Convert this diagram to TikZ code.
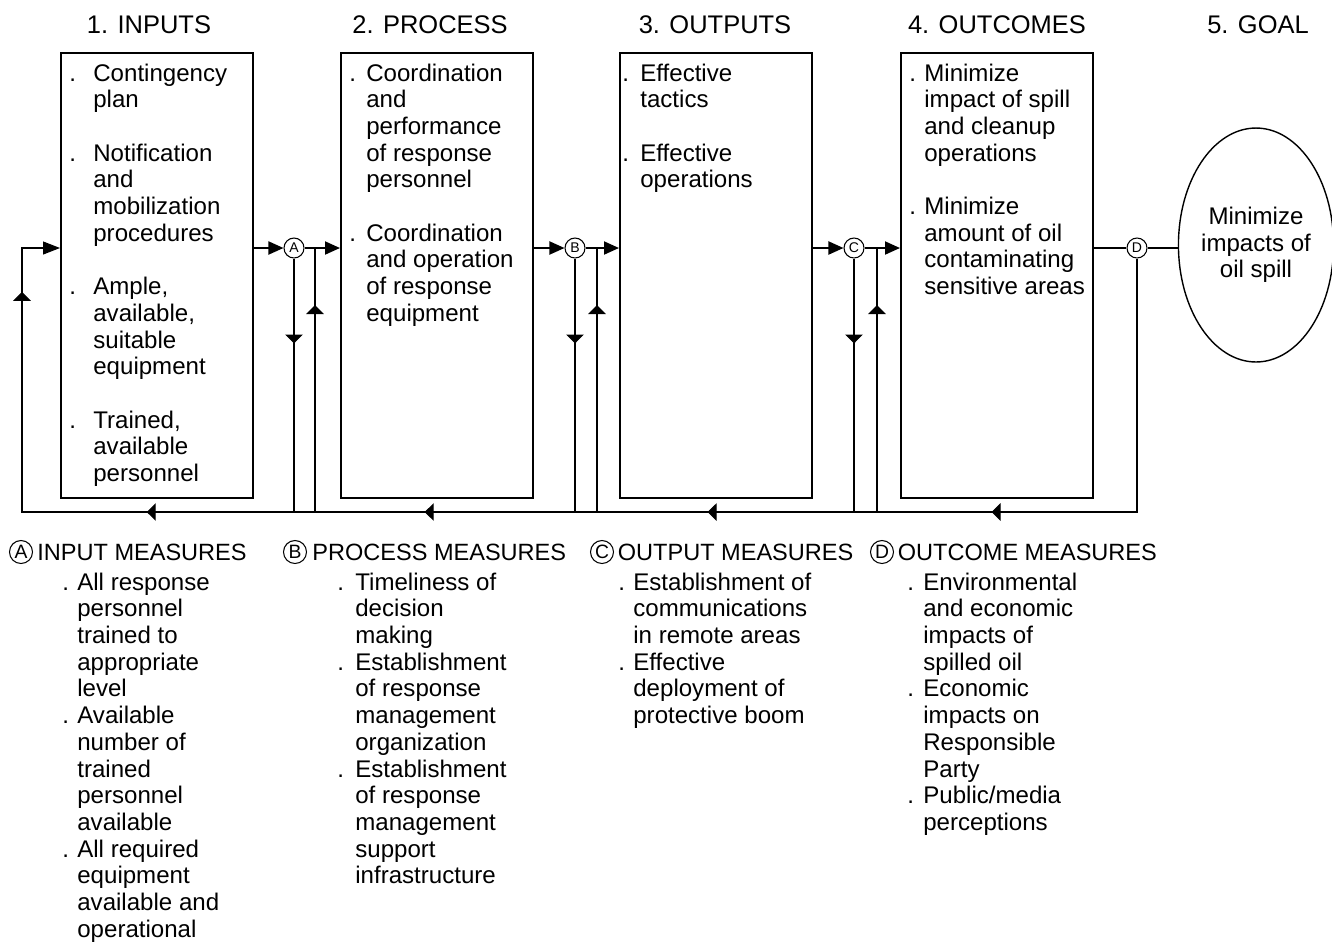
\documentclass[tikz,border=0pt]{standalone}
\usepackage{fontspec}
\setmainfont{Liberation Sans}
\usetikzlibrary{shapes.geometric, arrows.meta, positioning, decorations.markings}

\newcommand{\bodyfont}{\fontsize{13.7}{15.2}\selectfont}
\newcommand{\headfont}{\fontsize{14.5}{17}\selectfont}
\newcommand{\measfont}{\fontsize{13.4}{15.2}\selectfont}
\newcommand{\bul}[1]{\llap{\makebox[#1][l]{.}}\strut}

\tikzstyle{stage} = [rectangle, draw=black, line width=1.3pt, anchor=north west, inner sep=0pt, minimum width=3.84cm, minimum height=8.9cm]
\tikzstyle{title} = [anchor=base, inner sep=0pt, font=\headfont]
\tikzstyle{meas} = [anchor=west, inner sep=0pt, font=\measfont]
\tikzstyle{txt} = [anchor=north west, align=left, inner sep=0pt, font=\bodyfont]
\tikzstyle{tag} = [circle, draw=black, line width=0.6pt, fill=white, minimum size=0.4cm, inner sep=0pt, font=\fontsize{8}{8}\selectfont]
\tikzstyle{bigtag} = [circle, draw=black, line width=0.6pt, minimum size=0.46cm, inner sep=0pt, font=\fontsize{11}{11}\selectfont]
\tikzstyle{arrow} = [line width=1.1pt, -{Triangle[length=0.3cm, width=0.26cm]}]
\tikzstyle{link} = [line width=1.1pt]
\tikzstyle{thinline} = [line width=0.6pt]
\tikzset{
  flat/.tip={Triangle[length=0.18cm, width=0.35cm]},
  markat/.style={postaction={decorate}, decoration={markings, mark=at position #1 with {\arrow{flat}}}}
}

\begin{document}
\begin{tikzpicture}[x=0.02cm, y=-0.02cm]
\useasboundingbox (0,0) rectangle (1332,941);

% column titles
\node[title] (t1) at (149,33) {1. INPUTS};
\node[title] (t2) at (430,33) {2. PROCESS};
\node[title] (t3) at (715,33) {3. OUTPUTS};
\node[title] (t4) at (997,33) {4. OUTCOMES};
\node[title] (t5) at (1258,33) {5. GOAL};

% stage boxes
\node[stage] (box1) at (60,52) {};
\node[stage] (box2) at (340,52) {};
\node[stage] (box3) at (619,52) {};
\node[stage] (box4) at (900,52) {};
\node[ellipse, draw=black, line width=0.8pt, minimum width=3.0cm, minimum height=4.68cm, inner sep=0pt, align=center, font=\bodyfont] (goal) at (1256,245) {Minimize\\impacts of\\oil spill};

\node[txt] (in) at (93,62) {\bul{0.48cm}Contingency\\plan\\[15.2pt]\bul{0.48cm}Notification\\and\\mobilization\\procedures\\[15.2pt]\bul{0.48cm}Ample,\\available,\\suitable\\equipment\\[15.2pt]\bul{0.48cm}Trained,\\available\\personnel};
\node[txt] (pr) at (366,62) {\bul{0.34cm}Coordination\\and\\performance\\of response\\personnel\\[15.2pt]\bul{0.34cm}Coordination\\and operation\\of response\\equipment};
\node[txt] (out) at (640,62) {\bul{0.36cm}Effective\\tactics\\[15.2pt]\bul{0.36cm}Effective\\operations};
\node[txt] (oc) at (924,62) {\bul{0.3cm}Minimize\\impact of spill\\and cleanup\\operations\\[15.2pt]\bul{0.3cm}Minimize\\amount of oil\\contaminating\\sensitive areas};

% measure points
\node[tag] (A) at (294,248) {A};
\node[tag] (B) at (575,248) {B};
\node[tag] (C) at (854,248) {C};
\node[tag] (D) at (1137,248) {D};
\coordinate (jA) at (315,248);
\coordinate (jB) at (597,248);
\coordinate (jC) at (877,248);
\coordinate (fb) at (22,512);

% main flow
\draw[arrow] (box1.east |- A) -- (A);
\draw[arrow] (A) -- (A -| box2.west);
\draw[arrow] (box2.east |- B) -- (B);
\draw[arrow] (B) -- (B -| box3.west);
\draw[arrow] (box3.east |- C) -- (C);
\draw[arrow] (C) -- (C -| box4.west);
\draw[link] (box4.east |- D) -- (D);
\draw[link] (D) -- (D -| goal.west);

% measures down, feedback up
\draw[thinline, markat=1.7cm] (A) -- (A |- fb);
\draw[thinline, markat=4.14cm] (jA |- fb) -- (jA);
\draw[thinline, markat=1.7cm] (B) -- (B |- fb);
\draw[thinline, markat=4.14cm] (jB |- fb) -- (jB);
\draw[thinline, markat=1.7cm] (C) -- (C |- fb);
\draw[thinline, markat=4.14cm] (jC |- fb) -- (jC);
\draw[thinline, -{Triangle[length=0.34cm, width=0.26cm]}, postaction={decorate}, decoration={markings,
    mark=at position 7.98cm with {\arrow{flat}},
    mark=at position 13.66cm with {\arrow{flat}},
    mark=at position 19.32cm with {\arrow{flat}},
    mark=at position 24.88cm with {\arrow{flat}},
    mark=at position 31.78cm with {\arrow{flat}}}]
  (D) -- (D |- fb) -- (fb) -- (fb |- A) -- (A -| box1.west);

% measures
\node[bigtag] (mA) at (21,552) {A};
\node[meas, right=0.08cm of mA] (hA) {INPUT MEASURES};
\node[bigtag] (mB) at (295,552) {B};
\node[meas, right=0.1cm of mB] (hB) {PROCESS MEASURES};
\node[bigtag] (mC) at (602,552) {C};
\node[meas, right=0.07cm of mC] (hC) {OUTPUT MEASURES};
\node[bigtag] (mD) at (882,552) {D};
\node[meas, right=0.07cm of mD] (hD) {OUTCOME MEASURES};

\node[txt] (iA) at (77,571) {\bul{0.3cm}All response\\personnel\\trained to\\appropriate\\level\\\bul{0.3cm}Available\\number of\\trained\\personnel\\available\\\bul{0.3cm}All required\\equipment\\available and\\operational};
\node[txt] (iB) at (355,571) {\bul{0.36cm}Timeliness of\\decision\\making\\\bul{0.36cm}Establishment\\of response\\management\\organization\\\bul{0.36cm}Establishment\\of response\\management\\support\\infrastructure};
\node[txt] (iC) at (633,571) {\bul{0.3cm}Establishment of\\communications\\in remote areas\\\bul{0.3cm}Effective\\deployment of\\protective boom};
\node[txt] (iD) at (923,571) {\bul{0.32cm}Environmental\\and economic\\impacts of\\spilled oil\\\bul{0.32cm}Economic\\impacts on\\Responsible\\Party\\\bul{0.32cm}Public/media\\perceptions};
\end{tikzpicture}
\end{document}
